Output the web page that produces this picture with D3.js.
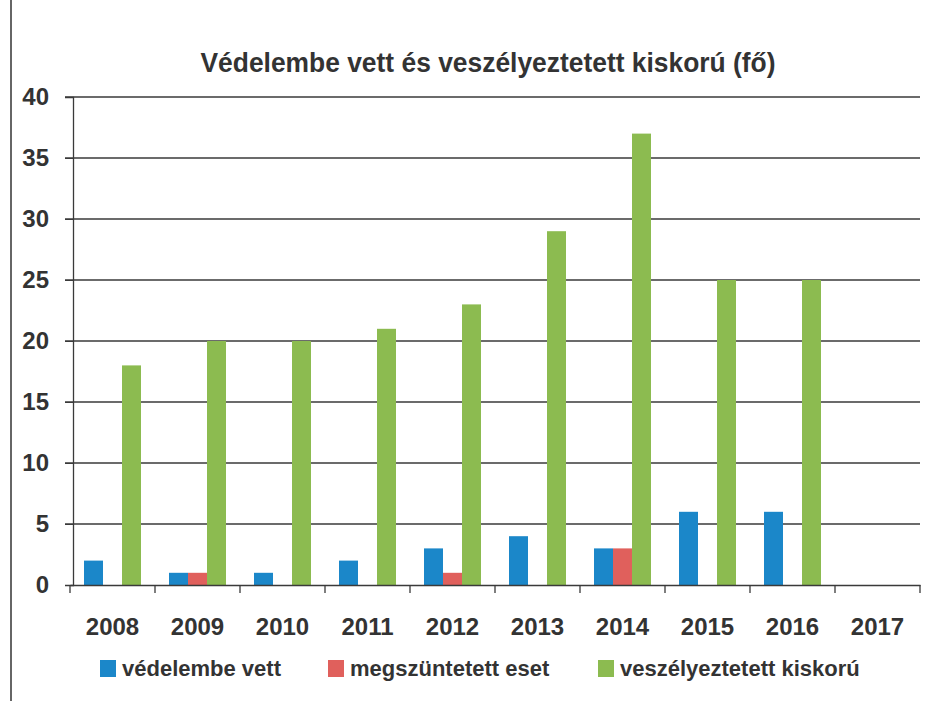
<!DOCTYPE html>
<html><head><meta charset="utf-8">
<script src="https://cdn.jsdelivr.net/npm/d3@7"></script>
<style>body{margin:0;background:#fff}svg{display:block}</style>
</head><body>
<script>
const categories = ["2008","2009","2010","2011","2012","2013","2014","2015","2016","2017"];
const seriesNames = ["védelembe vett","megszüntetett eset","veszélyeztetett kiskorú"];
const vedelembeVett = [2,1,1,2,3,4,3,6,6,0];
const megszuntetett = [0,1,0,0,1,0,3,0,0,0];
const veszelyeztetett = [18,20,20,21,23,29,37,25,25,0];
const yTicks = [0,5,10,15,20,25,30,35,40];
const colors = ["#1b87c9","#e0605c","#8cbb50"];

const W=941,H=701;
const font = "'Liberation Sans Narrow','Arial Narrow','Liberation Sans',sans-serif";
const svg = d3.select("body").append("svg").attr("width",W).attr("height",H);
svg.append("rect").attr("width",W).attr("height",H).attr("fill","#fff");
svg.append("line").attr("x1",11).attr("x2",11).attr("y1",0).attr("y2",H).attr("stroke","#333").attr("stroke-width",1.5);

const m={l:70,r:920,t:97,b:585};
const x = d3.scaleBand().domain(categories).range([m.l,m.r]);
const y = d3.scaleLinear().domain([0,40]).range([m.b,m.t]);
const barW = 19;
const xs = d3.scaleBand().domain(seriesNames).range([-barW*1.5,barW*1.5]);

// grid
svg.append("g").selectAll("line").data(yTicks.filter(d=>d>0)).join("line")
  .attr("x1",m.l-5).attr("x2",m.r).attr("y1",d=>y(d)).attr("y2",d=>y(d))
  .attr("stroke","#3a3a3a").attr("stroke-width",1.3);

const data=[vedelembeVett,megszuntetett,veszelyeztetett];
seriesNames.forEach((s,i)=>{
  svg.append("g").selectAll("rect").data(categories).join("rect")
    .attr("x",c=>x(c)+x.bandwidth()/2+xs(s))
    .attr("width",xs.bandwidth())
    .attr("y",(c,j)=>y(data[i][j]))
    .attr("height",(c,j)=>y(0)-y(data[i][j]))
    .attr("fill",colors[i]);
});

// y axis
const ya = svg.append("g").attr("transform",`translate(${m.l+3},0)`)
  .call(d3.axisLeft(y).tickValues(yTicks).tickSize(8).tickPadding(16));
ya.select(".domain").attr("stroke","#3a3a3a").attr("stroke-width",1.3);
ya.selectAll(".tick line").attr("stroke","#3a3a3a");
ya.selectAll("text").attr("font-family",font).attr("font-weight","bold").attr("font-size",24).attr("fill","#333");

// x axis
const xa = svg.append("g").attr("transform",`translate(0,${m.b})`)
  .call(d3.axisBottom(x).tickSize(0).tickPadding(33));
xa.select(".domain").attr("stroke","#3a3a3a").attr("stroke-width",1.3);
xa.selectAll("text").attr("font-family",font).attr("font-weight","bold").attr("font-size",24).attr("fill","#333");
svg.append("g").selectAll("line").data(categories.concat(["end"])).join("line")
  .attr("x1",(c,i)=>m.l+i*x.step()).attr("x2",(c,i)=>m.l+i*x.step())
  .attr("y1",m.b).attr("y2",m.b+8).attr("stroke","#3a3a3a").attr("stroke-width",1.3);

// title
svg.append("text").attr("x",488).attr("y",72).attr("text-anchor","middle")
  .attr("font-family",font).attr("font-weight","bold").attr("font-size",27).attr("fill","#333")
  .attr("textLength",575).attr("lengthAdjust","spacingAndGlyphs")
  .text("Védelembe vett és veszélyeztetett kiskorú (fő)");

// legend
const legX=[100,328,598];
const lg = svg.append("g").selectAll("g").data(seriesNames).join("g")
  .attr("transform",(d,i)=>`translate(${legX[i]},660)`);
lg.append("rect").attr("width",16).attr("height",17).attr("fill",(d,i)=>colors[i]);
lg.append("text").attr("x",22).attr("y",16).attr("font-family",font).attr("font-weight","bold")
  .attr("font-size",22).attr("fill","#333").text(d=>d);
</script>
</body></html>
